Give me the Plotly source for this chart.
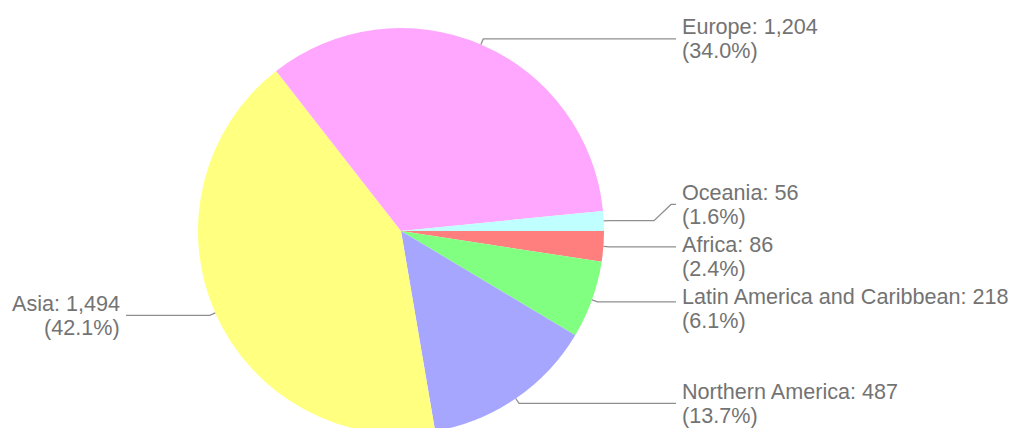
import math
import plotly.graph_objects as go

# World population by region (millions)
regions = ['Africa', 'Latin America and Caribbean', 'Northern America', 'Asia', 'Europe', 'Oceania']
population = [86, 218, 487, 1494, 1204, 56]
colors = ['#FF7F7F', '#80FF80', '#A6A6FF', '#FFFF80', '#FFA6FF', '#BFFFFF']

W, H = 1013, 440
CX, CY, R = 401, 231, 203
FONT = 'Arial, "Liberation Sans", sans-serif'
TEXT_COLOR = '#737373'
LINE_COLOR = '#8f8f8f'


def px(x):
    return x / W


def py(y):
    return 1 - y / H


total = sum(population)

fig = go.Figure()
fig.add_trace(go.Pie(
    labels=regions, values=population,
    sort=False, direction='clockwise', rotation=90,
    marker=dict(colors=colors, line=dict(width=0)),
    textinfo='none', hoverinfo='label+value+percent',
    domain=dict(x=[px(CX - R), px(CX + R)], y=[py(CY + R), py(CY - R)]),
    showlegend=False,
))

# label anchors derived from the slice mid-angles
labels = []
cum = 0
for name, v in zip(regions, population):
    mid = (cum + v / 2) / total * 2 * math.pi
    cum += v
    c, s = math.cos(mid), math.sin(mid)
    labels.append(dict(
        line1=f'{name}: {v:,}', line2=f'({v / total * 100:.1f}%)',
        ax=CX + R * c, ay=CY + R * s,
        tx=CX + (R + 6) * c, ty=CY + (R + 6) * s,
        right=c >= 0,
    ))


def spread(items, gap=52):
    items.sort(key=lambda d: d['ty'])
    for d in items:
        d['ly'] = d['ty']
    for _ in range(60):
        for a, b in zip(items, items[1:]):
            over = gap - (b['ly'] - a['ly'])
            if over > 0:
                a['ly'] -= over / 2
                b['ly'] += over / 2


spread([d for d in labels if d['right']])
spread([d for d in labels if not d['right']])

shapes = []
annotations = []
for d in labels:
    sign = 1 if d['right'] else -1
    end_x = 676 if d['right'] else 126
    text_x = 681 if d['right'] else 121
    pts = [(d['ax'], d['ay']), (d['tx'], d['ty'])]
    if abs(d['ly'] - d['ty']) > 14:
        pts += [(end_x - sign * 22, d['ty']), (end_x - sign * 5, d['ly']), (end_x, d['ly'])]
    else:
        pts += [(end_x, d['ty'])]
    path = 'M ' + ' L '.join(f'{px(x):.5f},{py(y):.5f}' for x, y in pts)
    shapes.append(dict(type='path', path=path, xref='paper', yref='paper',
                       line=dict(color=LINE_COLOR, width=1.3), layer='above'))
    for txt, dy in [(d['line1'], -12), (d['line2'], 12)]:
        annotations.append(dict(
            text=txt, x=px(text_x), y=py(d['ly'] + dy), xref='paper', yref='paper',
            xanchor='left' if d['right'] else 'right', yanchor='middle',
            showarrow=False, borderpad=0,
            font=dict(family=FONT, size=21.6, color=TEXT_COLOR),
        ))

fig.update_layout(
    width=W, height=H,
    margin=dict(l=0, r=0, t=0, b=0),
    paper_bgcolor='white', plot_bgcolor='white',
    font=dict(family=FONT),
    shapes=shapes, annotations=annotations,
)

fig.write_html(
    'out.html',
    config={'displayModeBar': False},
    post_script="document.body.style.margin='0';document.body.style.overflow='hidden';"
                "document.documentElement.style.overflow='hidden';",
)
